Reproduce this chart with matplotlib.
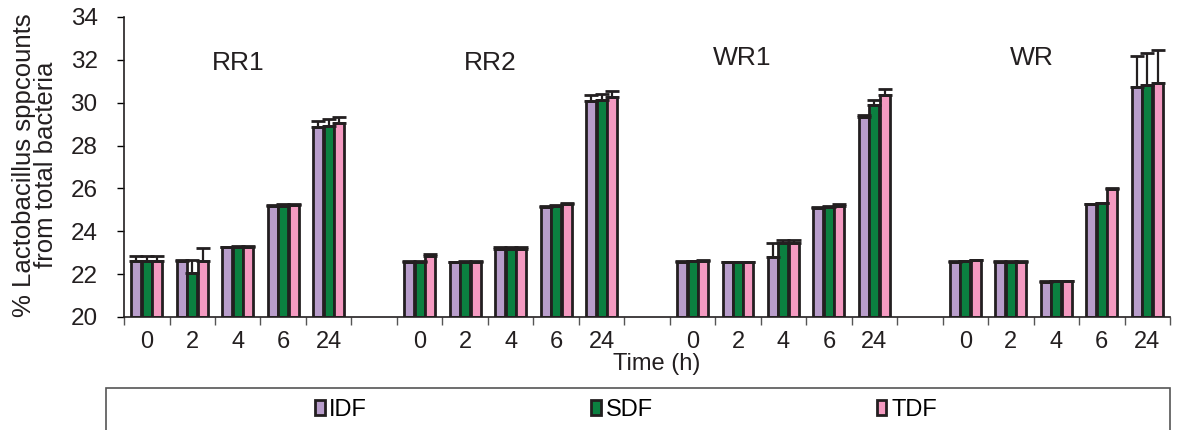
import numpy as np
import matplotlib; matplotlib.use("Agg"); import matplotlib.pyplot as plt
from matplotlib.patches import Rectangle

plt.rcParams['font.family'] = ['Liberation Sans', 'DejaVu Sans']

# ---------- data ----------
groups = ['RR1', 'RR2', 'WR1', 'WR']
times = ['0', '2', '4', '6', '24']
series = ['IDF', 'SDF', 'TDF']
colors = ['#B89DCB', '#0B8040', '#F49AC1']

idf = [22.63, 22.63, 23.25, 25.18, 28.88,
       22.58, 22.55, 23.15, 25.15, 30.10,
       22.58, 22.55, 22.82, 25.07, 29.32,
       22.58, 22.57, 21.65, 25.26, 30.75]
sdf = [22.63, 22.04, 23.26, 25.20, 28.93,
       22.58, 22.57, 23.17, 25.18, 30.13,
       22.60, 22.56, 23.44, 25.15, 29.90,
       22.60, 22.58, 21.67, 25.30, 30.83]
tdf = [22.63, 22.63, 23.28, 25.23, 29.03,
       22.86, 22.58, 23.17, 25.25, 30.25,
       22.62, 22.56, 23.45, 25.20, 30.36,
       22.64, 22.58, 21.67, 25.97, 30.93]
idf_err = [0.20, 0.02, 0.03, 0.05, 0.27,
           0.05, 0.02, 0.10, 0.05, 0.26,
           0.02, 0.02, 0.62, 0.05, 0.11,
           0.02, 0.02, 0.02, 0.03, 1.44]
sdf_err = [0.20, 0.60, 0.03, 0.05, 0.29,
           0.05, 0.02, 0.10, 0.05, 0.27,
           0.02, 0.02, 0.16, 0.05, 0.23,
           0.02, 0.02, 0.02, 0.03, 1.47]
tdf_err = [0.20, 0.58, 0.03, 0.05, 0.32,
           0.06, 0.02, 0.10, 0.05, 0.30,
           0.02, 0.02, 0.15, 0.05, 0.26,
           0.02, 0.02, 0.02, 0.03, 1.53]

# ---------- layout: 5 categories per group, one empty slot between groups ----------
ncat = len(groups) * len(times) + len(groups) - 1
pos = np.array([g * (len(times) + 1) + t for g in range(len(groups)) for t in range(len(times))])

fig = plt.figure(figsize=(11.79, 4.30), dpi=100)
ax = fig.add_axes([0.1052, 0.2628, 0.8872, 0.6977])

w = 0.22
vals = [idf, sdf, tdf]; errs = [idf_err, sdf_err, tdf_err]
handles = []
for k in range(3):
    x = pos + (k - 1) * (w + 0.01)
    b = ax.bar(x, np.array(vals[k]) - 20, bottom=20, width=w, color=colors[k],
               edgecolor='#231F20', linewidth=2, label=series[k], zorder=2)
    ax.errorbar(x, vals[k], yerr=[np.zeros(len(errs[k])), errs[k]], fmt='none',
                ecolor='#231F20', elinewidth=1.6, capsize=5, capthick=2, zorder=3)
    handles.append(b)

ax.set_ylim(20, 34)
ax.set_xlim(0 - 0.5, ncat - 0.5)
ax.set_yticks(np.arange(20, 35, 2))
ax.set_xticks(np.arange(-0.5, ncat, 1.0))
ax.set_xticklabels([])
ax.set_xticks(pos, [times[i % len(times)] for i in range(len(pos))], minor=True)
ax.tick_params(axis='x', which='major', length=6, width=1, color='#555555', direction='out')
ax.tick_params(axis='x', which='minor', length=0, pad=10, labelsize=17, labelcolor='#231F20')
ax.tick_params(axis='y', length=5, width=1, pad=14, labelsize=17.5, labelcolor='#231F20',
               direction='out')
for s in ['top', 'right']:
    ax.spines[s].set_visible(False)
for s in ['left', 'bottom']:
    ax.spines[s].set_linewidth(1.2)
    ax.spines[s].set_color('#231F20')

# group labels
for name, gx, gy in zip(groups, [2.0, 7.55, 13.1, 19.45], [31.85, 31.85, 32.08, 32.08]):
    ax.text(gx, gy, name, ha='center', va='center', fontsize=19, color='#231F20')

fig.text(657 / 1179, 1 - 364 / 430, 'Time (h)', ha='center', va='center', fontsize=17,
         color='#231F20')
fig.text(35 / 1179, 1 - 165 / 430, '% Lactobacillus sppcounts\nfrom total bacteria',
         rotation=90, ha='center', va='center', fontsize=18.5, linespacing=0.92,
         multialignment='center', color='#231F20')

# legend box (bottom edge cut off in the reference)
fig.patches.append(Rectangle((106 / 1179, -0.05), (1170 - 106) / 1179, 0.05 + 42 / 430,
                             transform=fig.transFigure, fill=False, edgecolor='#555555',
                             linewidth=1.2))
fig.legend(handles=handles, labels=series, loc='center', ncol=3, frameon=False,
           bbox_to_anchor=(626 / 1179, 1 - 410 / 430), fontsize=17,
           handlelength=0.4, handleheight=0.6, handletextpad=0.2, columnspacing=9.5)

fig.savefig('out.png', dpi=100)
